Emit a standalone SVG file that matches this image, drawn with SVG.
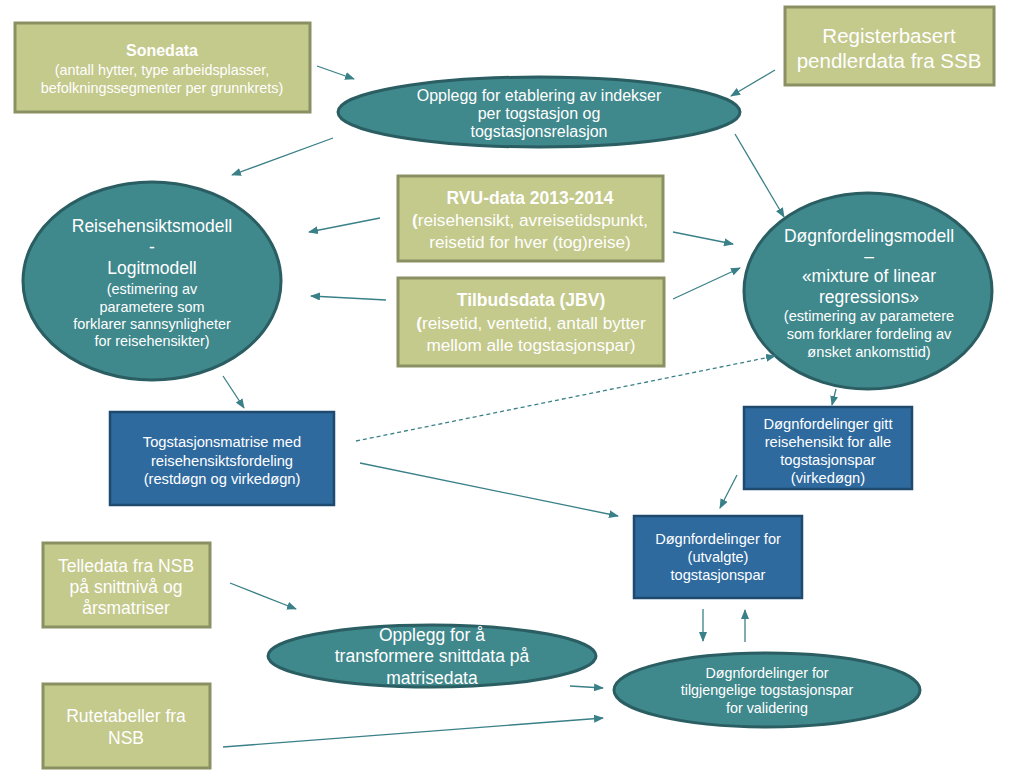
<svg xmlns="http://www.w3.org/2000/svg" width="1024" height="779" viewBox="0 0 1024 779">
<defs>
<marker id="ah" markerWidth="10" markerHeight="8" refX="9" refY="4" orient="auto" markerUnits="userSpaceOnUse">
<path d="M0,0 L10,4 L0,8 z" fill="#3a8088"/>
</marker>
<style>
.ol{fill:#c4c98c;stroke:#8b9062;stroke-width:3}
.el{fill:#3f888c;stroke:#2a5e62;stroke-width:3}
.bl{fill:#2f6a9f;stroke:#1f4a70;stroke-width:2.5}
.t{font-family:"Liberation Sans",Arial,sans-serif;fill:#ffffff;text-anchor:middle}
.c{stroke:#3a8088;stroke-width:1.3;fill:none;marker-end:url(#ah)}
</style>
</defs>
<rect width="1024" height="779" fill="#ffffff"/>
<g id="sonedata">
<rect class="ol" x="15" y="23" width="295" height="89"/>
<text class="t" font-size="14.4"><tspan x="162" y="56" font-weight="bold" font-size="16">Sonedata</tspan><tspan x="162" y="75">(antall hytter, type arbeidsplasser,</tspan><tspan x="162" y="93">befolkningssegmenter per grunnkrets)</tspan></text>
</g>
<g id="registerbasert">
<rect class="ol" x="785" y="7" width="209" height="78"/>
<text class="t" font-size="20.5"><tspan x="889" y="43">Registerbasert</tspan><tspan x="889" y="68">pendlerdata fra SSB</tspan></text>
</g>
<g id="opplegg-indekser">
<ellipse class="el" cx="539" cy="112" rx="201" ry="35"/>
<text class="t" font-size="16"><tspan x="539" y="101">Opplegg for etablering av indekser</tspan><tspan x="539" y="119">per togstasjon og</tspan><tspan x="539" y="137">togstasjonsrelasjon</tspan></text>
</g>
<g id="reisehensiktsmodell">
<ellipse class="el" cx="152" cy="281" rx="129" ry="99"/>
<text class="t" font-size="17.5"><tspan x="152" y="232">Reisehensiktsmodell</tspan><tspan x="152" y="253">-</tspan><tspan x="152" y="274">Logitmodell</tspan><tspan x="152" y="294" font-size="14.4">(estimering av</tspan><tspan x="152" y="312" font-size="14.4">parametere som</tspan><tspan x="152" y="329" font-size="14.4">forklarer sannsynligheter</tspan><tspan x="152" y="346" font-size="14.4">for reisehensikter)</tspan></text>
</g>
<g id="rvu">
<rect class="ol" x="398" y="176" width="265" height="85"/>
<text class="t" font-size="17.2"><tspan x="530" y="204" font-weight="bold" font-size="17.5">RVU-data 2013-2014</tspan><tspan x="530" y="226"><tspan font-weight="bold">(</tspan>reisehensikt, avreisetidspunkt,</tspan><tspan x="530" y="248">reisetid for hver (tog)reise)</tspan></text>
</g>
<g id="tilbudsdata">
<rect class="ol" x="398" y="278" width="266" height="88"/>
<text class="t" font-size="17.2"><tspan x="531" y="306" font-weight="bold" font-size="17.5">Tilbudsdata (JBV)</tspan><tspan x="531" y="329"><tspan font-weight="bold">(</tspan>reisetid, ventetid, antall bytter</tspan><tspan x="531" y="351">mellom alle togstasjonspar)</tspan></text>
</g>
<g id="dognfordelingsmodell">
<ellipse class="el" cx="868" cy="291" rx="124" ry="98"/>
<text class="t" font-size="17.5"><tspan x="869" y="242">Døgnfordelingsmodell</tspan><tspan x="869" y="262">–</tspan><tspan x="869" y="282">«mixture of linear</tspan><tspan x="869" y="303">regressions»</tspan><tspan x="869" y="321" font-size="14.6">(estimering av parametere</tspan><tspan x="869" y="339" font-size="14.6">som forklarer fordeling av</tspan><tspan x="869" y="357" font-size="14.6">ønsket ankomsttid)</tspan></text>
</g>
<g id="togstasjonsmatrise">
<rect class="bl" x="110" y="412" width="224" height="93"/>
<text class="t" font-size="14.7"><tspan x="222" y="447">Togstasjonsmatrise med</tspan><tspan x="222" y="466">reisehensiktsfordeling</tspan><tspan x="222" y="484">(restdøgn og virkedøgn)</tspan></text>
</g>
<g id="dognfordelinger-gitt">
<rect class="bl" x="744" y="407" width="168" height="82"/>
<text class="t" font-size="14.7"><tspan x="828" y="429">Døgnfordelinger gitt</tspan><tspan x="828" y="447">reisehensikt for alle</tspan><tspan x="828" y="465">togstasjonspar</tspan><tspan x="828" y="483">(virkedøgn)</tspan></text>
</g>
<g id="dognfordelinger-utvalgte">
<rect class="bl" x="634" y="516" width="168" height="82"/>
<text class="t" font-size="14.6"><tspan x="718" y="544">Døgnfordelinger for</tspan><tspan x="718" y="562">(utvalgte)</tspan><tspan x="718" y="580">togstasjonspar</tspan></text>
</g>
<g id="telledata">
<rect class="ol" x="43" y="543" width="167" height="84"/>
<text class="t" font-size="17.5"><tspan x="126" y="572">Telledata fra NSB</tspan><tspan x="126" y="593">på snittnivå og</tspan><tspan x="126" y="614">årsmatriser</tspan></text>
</g>
<g id="rutetabeller">
<rect class="ol" x="43" y="684" width="167" height="84"/>
<text class="t" font-size="17.5"><tspan x="126" y="722">Rutetabeller fra</tspan><tspan x="126" y="744">NSB</tspan></text>
</g>
<g id="opplegg-transformere">
<ellipse class="el" cx="432" cy="656" rx="164" ry="31"/>
<text class="t" font-size="17.5"><tspan x="432" y="641">Opplegg for å</tspan><tspan x="432" y="662">transformere snittdata på</tspan><tspan x="432" y="684">matrisedata</tspan></text>
</g>
<g id="dognfordelinger-validering">
<ellipse class="el" cx="767" cy="690" rx="153" ry="37"/>
<text class="t" font-size="14.3"><tspan x="767" y="678">Døgnfordelinger for</tspan><tspan x="767" y="695">tilgjengelige togstasjonspar</tspan><tspan x="767" y="713">for validering</tspan></text>
</g>
<g id="connectors">
<line class="c" x1="317" y1="66" x2="354" y2="79"/>
<line class="c" x1="775" y1="70" x2="731" y2="96"/>
<line class="c" x1="333" y1="138" x2="232" y2="175"/>
<line class="c" x1="735" y1="134" x2="784" y2="217"/>
<line class="c" x1="380" y1="218" x2="309" y2="232"/>
<line class="c" x1="386" y1="300" x2="311" y2="296"/>
<line class="c" x1="673" y1="232" x2="733" y2="244"/>
<line class="c" x1="673" y1="299" x2="740" y2="268"/>
<line class="c" x1="223" y1="376" x2="244" y2="408"/>
<line class="c" x1="356" y1="441" x2="775" y2="356" stroke-dasharray="4,3"/>
<line class="c" x1="360" y1="463" x2="618" y2="516"/>
<line class="c" x1="836" y1="389" x2="832" y2="405"/>
<line class="c" x1="737" y1="475" x2="720" y2="508"/>
<line class="c" x1="703" y1="609" x2="703" y2="641"/>
<line class="c" x1="745" y1="642" x2="745" y2="610"/>
<line class="c" x1="230" y1="583" x2="296" y2="609"/>
<line class="c" x1="570" y1="686" x2="603" y2="688"/>
<line class="c" x1="223" y1="747" x2="603" y2="718"/>
</g>
</svg>
